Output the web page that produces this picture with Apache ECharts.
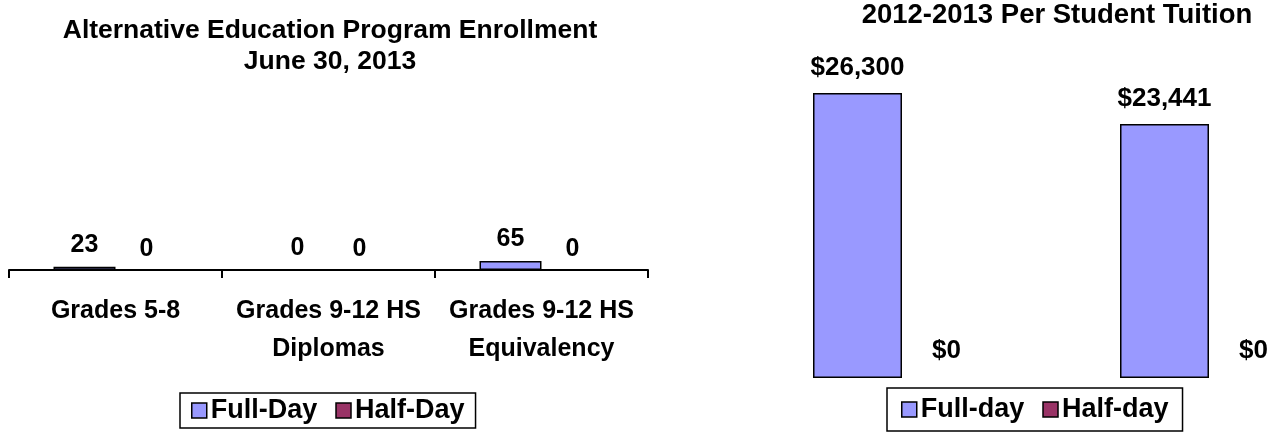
<!DOCTYPE html>
<html>
<head>
<meta charset="utf-8">
<script src="https://cdn.jsdelivr.net/npm/echarts@6/dist/echarts.min.js"></script>
<style>
html,body{margin:0;padding:0;background:#fff;}
#chart{width:1276px;height:436px;}
</style>
</head>
<body>
<div id="chart"></div>
<script>
// ---- Data ----
const enrollTitle = 'Alternative Education Program Enrollment\nJune 30, 2013';
const enrollCategories = ['Grades 5-8', 'Grades 9-12 HS\nDiplomas', 'Grades 9-12 HS\nEquivalency'];
const enrollFullDay = [23, 0, 65];
const enrollHalfDay = [0, 0, 0];
const enrollSeriesNames = ['Full-Day', 'Half-Day'];

const tuitionTitle = '2012-2013 Per Student Tuition';
const tuitionCategories = ['A', 'B'];
const tuitionFullDay = [26300, 23441];
const tuitionHalfDay = [0, 0];
const tuitionSeriesNames = ['Full-day', 'Half-day'];

const FULL_COLOR = '#9999FF';
const HALF_COLOR = '#993366';
const FONT = "'Liberation Sans', Arial, sans-serif";

const chart = echarts.init(document.getElementById('chart'));

const labelStyle = {
  show: true, position: 'top', color: '#000', fontFamily: FONT,
  fontWeight: 'bold', fontSize: 25
};
const barStyle = (c) => ({ color: c, borderColor: '#000', borderWidth: 1.5 });
const legendText = { fontFamily: FONT, fontWeight: 'bold', fontSize: 27, color: '#000', padding: [0, 0, 0, -1] };

chart.setOption({
  animation: false,
  backgroundColor: '#fff',
  title: [
    { text: enrollTitle, left: 330, top: 15, padding: 0, textAlign: 'center',
      textStyle: { fontFamily: FONT, fontWeight: 'bold', fontSize: 26.5, lineHeight: 31, color: '#000' } },
    { text: tuitionTitle, left: 1057, top: 0, padding: 0, textAlign: 'center',
      textStyle: { fontFamily: FONT, fontWeight: 'bold', fontSize: 27.5, lineHeight: 30, color: '#000' } }
  ],
  legend: [
    { data: enrollSeriesNames, left: 180, top: 393, orient: 'horizontal',
      borderColor: '#000', borderWidth: 1.5, padding: [4, 11], itemGap: 18,
      itemWidth: 15, itemHeight: 15, icon: 'rect',
      itemStyle: { borderColor: '#000', borderWidth: 1.5 },
      textStyle: legendText },
    { data: tuitionSeriesNames, left: 887, top: 388, orient: 'horizontal',
      borderColor: '#000', borderWidth: 1.5, padding: [8, 14], itemGap: 18,
      itemWidth: 15, itemHeight: 15, icon: 'rect',
      itemStyle: { borderColor: '#000', borderWidth: 1.5 },
      textStyle: legendText }
  ],
  grid: [
    { left: 9, width: 639, top: 90, height: 180, outerBoundsMode: 'none', containLabel: false },
    { left: 748.5, width: 614, top: 53, height: 325, outerBoundsMode: 'none', containLabel: false }
  ],
  xAxis: [
    { type: 'category', gridIndex: 0, data: enrollCategories,
      axisLine: { lineStyle: { color: '#000', width: 2 } },
      axisTick: { show: true, length: 8, lineStyle: { color: '#000', width: 2 } },
      axisLabel: { interval: 0, margin: 22, color: '#000', fontFamily: FONT,
        fontWeight: 'bold', fontSize: 25, lineHeight: 38 } },
    { type: 'category', gridIndex: 1, data: tuitionCategories,
      axisLine: { show: false }, axisTick: { show: false }, axisLabel: { show: false } }
  ],
  yAxis: [
    { type: 'value', gridIndex: 0, min: 0, max: 1300, show: false, splitLine: { show: false } },
    { type: 'value', gridIndex: 1, min: 0, max: 30000, show: false, splitLine: { show: false } }
  ],
  series: [
    { name: enrollSeriesNames[0], type: 'bar', xAxisIndex: 0, yAxisIndex: 0,
      data: enrollFullDay, barWidth: 62, barGap: '0%',
      itemStyle: barStyle(FULL_COLOR), label: Object.assign({}, labelStyle, { distance: 9 }) },
    { name: enrollSeriesNames[1], type: 'bar', xAxisIndex: 0, yAxisIndex: 0,
      data: enrollHalfDay, barWidth: 62, barGap: '0%',
      itemStyle: barStyle(HALF_COLOR), label: Object.assign({}, labelStyle, { distance: 8 }) },
    { name: tuitionSeriesNames[0], type: 'bar', xAxisIndex: 1, yAxisIndex: 1,
      data: tuitionFullDay, barWidth: 89, barGap: '0%',
      itemStyle: barStyle(FULL_COLOR),
      label: Object.assign({}, labelStyle, { distance: 12, fontSize: 26,
        formatter: p => '$' + p.value.toLocaleString('en-US') }) },
    { name: tuitionSeriesNames[1], type: 'bar', xAxisIndex: 1, yAxisIndex: 1,
      data: tuitionHalfDay, barWidth: 89, barGap: '0%',
      itemStyle: { color: HALF_COLOR, borderColor: '#000', borderWidth: 0 },
      label: Object.assign({}, labelStyle, { distance: 14, fontSize: 26,
        formatter: p => '$' + p.value.toLocaleString('en-US') }) }
  ]
});
</script>
</body>
</html>
